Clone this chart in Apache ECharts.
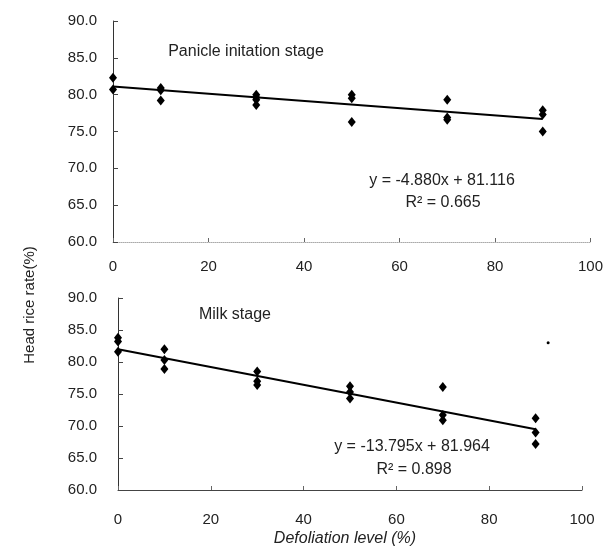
<!DOCTYPE html>
<html>
<head>
<meta charset="utf-8">
<script src="https://cdn.jsdelivr.net/npm/echarts@6/dist/echarts.min.js"></script>
<style>
  html, body { margin: 0; background: #fff; }
</style>
</head>
<body>
<div id="chart" style="width:606px;height:550px"></div>
<script>
// defoliation level (%) vs head rice rate (%)
const xMin = 0, xMax = 100, xStep = 20;
const yMin = 60, yMax = 90, yStep = 5;

// panicle initiation stage
const panicle = [
  [0, 82.3], [0, 80.7],
  [10, 80.9], [10, 80.6], [10, 79.2],
  [30, 80.0], [30, 79.6], [30, 79.3], [30, 78.6],
  [50, 80.0], [50, 79.5], [50, 76.3],
  [70, 79.3], [70, 76.9], [70, 76.6],
  [90, 77.9], [90, 77.3], [90, 75.0]
];
const panicleTrend = [[0, 81.1], [90, 76.7]];

// milk stage
const milk = [
  [0, 83.8], [0, 83.2], [0, 81.6],
  [10, 82.0], [10, 80.3], [10, 78.9],
  [30, 78.5], [30, 77.0], [30, 76.4],
  [50, 76.2], [50, 75.3], [50, 74.3],
  [70, 76.1], [70, 71.7], [70, 70.9],
  [90, 71.2], [90, 69.0], [90, 67.2]
];
const milkTrend = [[0, 82.0], [90, 69.5]];
const milkStray = [[92.7, 83.0]];   // small dot in the scan

const txt = '#222';
const font = 'Liberation Sans, Arial, sans-serif';

function xAxisFor(gridIndex, line, margin) {
  return {
    gridIndex: gridIndex, type: 'value', min: xMin, max: xMax, interval: xStep,
    axisLine: line,
    axisTick: { show: true, inside: true, length: 4, lineStyle: { color: '#666' } },
    splitLine: { show: false },
    axisLabel: { color: txt, fontSize: 15, fontFamily: font, margin: margin }
  };
}
function yAxisFor(gridIndex, margin) {
  return {
    gridIndex: gridIndex, type: 'value', min: yMin, max: yMax, interval: yStep,
    axisLine: { show: true, lineStyle: { color: '#333', width: 1 } },
    axisTick: { show: true, inside: true, length: 5, lineStyle: { color: '#444' } },
    splitLine: { show: false },
    axisLabel: { color: txt, fontSize: 15, fontFamily: font, margin: margin,
                 formatter: v => v.toFixed(1) }
  };
}
// centred annotation text
function label(x, y, text, extra) {
  return { type: 'text', x: x, y: y,
    style: Object.assign({ text: text, fill: txt, font: '16px ' + font,
                           align: 'center', verticalAlign: 'middle' }, extra || {}) };
}

const chart = echarts.init(document.getElementById('chart'));
const dot = { color: '#000', opacity: 1 };
const option = {
  backgroundColor: '#fff',
  animation: false,
  grid: [
    { left: 113, top: 21, width: 478, height: 221 },
    { left: 118, top: 298, width: 464, height: 192 }
  ],
  xAxis: [
    xAxisFor(0, { show: true, lineStyle: { color: '#aaa', type: 'dotted' } }, 17),
    xAxisFor(1, { show: true, lineStyle: { color: '#444', width: 1 } }, 22)
  ],
  yAxis: [yAxisFor(0, 16), yAxisFor(1, 21)],
  series: [
    { type: 'scatter', xAxisIndex: 0, yAxisIndex: 0, data: panicle,
      symbol: 'diamond', symbolSize: [8, 10], itemStyle: dot },
    { type: 'line', xAxisIndex: 0, yAxisIndex: 0, data: panicleTrend,
      symbol: 'none', lineStyle: { color: '#000', width: 2 } },
    { type: 'scatter', xAxisIndex: 1, yAxisIndex: 1, data: milk,
      symbol: 'diamond', symbolSize: [8, 10], itemStyle: dot },
    { type: 'line', xAxisIndex: 1, yAxisIndex: 1, data: milkTrend,
      symbol: 'none', lineStyle: { color: '#000', width: 2 } },
    { type: 'scatter', xAxisIndex: 1, yAxisIndex: 1, data: milkStray,
      symbol: 'circle', symbolSize: 3, itemStyle: dot }
  ],
  graphic: [
    label(246, 52, 'Panicle initation stage'),
    label(442, 181, 'y = -4.880x + 81.116'),
    label(443, 203, 'R\u00b2 = 0.665'),
    label(235, 315, 'Milk stage'),
    label(412, 447, 'y = -13.795x + 81.964'),
    label(414, 470, 'R\u00b2 = 0.898'),
    label(345, 539, 'Defoliation level (%)', { font: 'italic 16px ' + font }),
    { type: 'text', x: 30, y: 305, rotation: Math.PI / 2,
      style: { text: 'Head rice rate(%)', fill: txt, font: '15px ' + font,
               align: 'center', verticalAlign: 'middle' } }
  ]
};
chart.setOption(option);
</script>
</body>
</html>
